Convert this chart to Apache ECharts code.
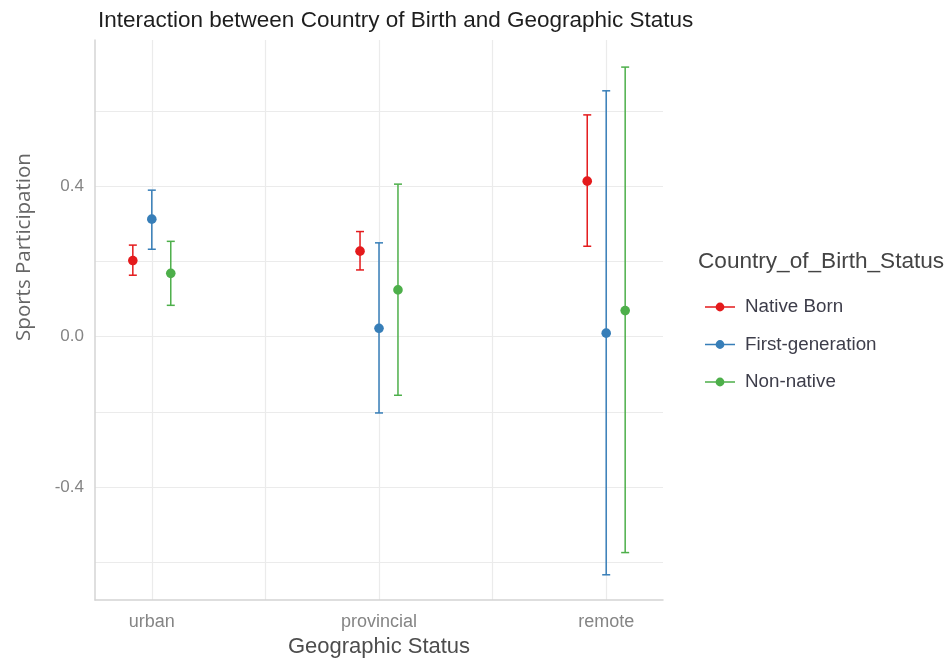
<!DOCTYPE html>
<html>
<head>
<meta charset="utf-8">
<script src="https://cdn.jsdelivr.net/npm/echarts@6/dist/echarts.min.js"></script>
<style>html,body{margin:0;padding:0;background:#fff;}#c{width:952px;height:667px;}</style>
</head>
<body>
<div id="c"></div>
<script>
const categories = ['urban', 'provincial', 'remote'];
const groups = ['Native Born', 'First-generation', 'Non-native'];
const nativeMean = [0.202, 0.227, 0.413];
const nativeLow  = [0.163, 0.177, 0.240];
const nativeHigh = [0.243, 0.279, 0.589];
const firstMean = [0.312, 0.022, 0.009];
const firstLow  = [0.232, -0.203, -0.633];
const firstHigh = [0.389, 0.249, 0.653];
const nonMean = [0.168, 0.124, 0.069];
const nonLow  = [0.083, -0.156, -0.574];
const nonHigh = [0.253, 0.405, 0.716];
const yMajorTicks = [-0.4, 0.0, 0.4];

const colors = ['#E41A1C', '#377EB8', '#4DAF4A'];
const dodge = [-0.0835, 0, 0.0835];
const FONT = 'Liberation Sans, Arial, sans-serif';

function build(mean, low, high) {
  return categories.map((c, i) => [i + 1, mean[i], low[i], high[i]]);
}
const seriesData = [
  build(nativeMean, nativeLow, nativeHigh),
  build(firstMean, firstLow, firstHigh),
  build(nonMean, nonLow, nonHigh)
];

const chart = echarts.init(document.getElementById('c'), null, {renderer: 'canvas'});

const series = groups.map((name, g) => ({
  name: name,
  type: 'custom',
  itemStyle: {color: colors[g]},
  data: seriesData[g],
  renderItem: function (params, api) {
    const x = api.value(0) + dodge[g];
    const pm = api.coord([x, api.value(1)]);
    const pl = api.coord([x, api.value(2)]);
    const ph = api.coord([x, api.value(3)]);
    const hw = 4;
    const st = {stroke: colors[g], lineWidth: 1.5, fill: null};
    return {
      type: 'group',
      children: [
        {type: 'line', shape: {x1: pl[0], y1: pl[1], x2: ph[0], y2: ph[1]}, style: st},
        {type: 'line', shape: {x1: pl[0] - hw, y1: pl[1], x2: pl[0] + hw, y2: pl[1]}, style: st},
        {type: 'line', shape: {x1: ph[0] - hw, y1: ph[1], x2: ph[0] + hw, y2: ph[1]}, style: st},
        {type: 'circle', shape: {cx: pm[0], cy: pm[1], r: 4.8}, style: {fill: colors[g]}}
      ]
    };
  }
}));

const option = {
  backgroundColor: '#fff',
  animation: false,
  title: {
    text: 'Interaction between Country of Birth and Geographic Status',
    left: 93, top: 4,
    textStyle: {fontFamily: FONT, fontSize: 22.5, fontWeight: 'normal', color: '#1e1e1e'}
  },
  grid: {left: 95, right: 289, top: 40, bottom: 67, containLabel: false, outerBoundsMode: 'none'},
  xAxis: {
    type: 'value',
    min: 0.75, max: 3.25, interval: 0.25,
    name: 'Geographic Status',
    nameLocation: 'middle', nameGap: 36,
    nameTextStyle: {fontFamily: FONT, fontSize: 22, color: '#4d4d4d', verticalAlign: 'top'},
    axisLine: {show: true, onZero: false, lineStyle: {color: '#d4d4d4', width: 1.5}},
    axisTick: {show: false},
    axisLabel: {
      fontFamily: FONT, fontSize: 18, color: '#858585', margin: 13,
      showMinLabel: true, showMaxLabel: true,
      formatter: function (v) {
        const r = Math.round(v);
        if (Math.abs(v - r) < 1e-6 && r >= 1 && r <= categories.length) return categories[r - 1];
        return '';
      }
    },
    splitLine: {show: true, showMinLine: false, showMaxLine: false, lineStyle: {color: ['#ebebeb', 'rgba(0,0,0,0)'], width: 1.2}}
  },
  yAxis: {
    type: 'value',
    min: -0.7, max: 0.788, interval: 0.1,
    axisLine: {show: true, onZero: false, lineStyle: {color: '#d4d4d4', width: 1.5}},
    axisTick: {show: false},
    axisLabel: {
      fontFamily: FONT, fontSize: 17, color: '#858585', margin: 11,
      formatter: function (v) {
        for (const t of yMajorTicks) {
          if (Math.abs(v - t) < 1e-6) return t.toFixed(1);
        }
        return '';
      }
    },
    splitLine: {show: true, showMinLine: false, showMaxLine: false, lineStyle: {color: ['#ebebeb', 'rgba(0,0,0,0)'], width: 1.2}}
  },
  legend: {
    data: groups,
    orient: 'vertical',
    left: 700, top: 292,
    icon: 'path://M0,4.3h30v1.4h-30z M15,0.6a4.4,4.4 0 1,1 -0.01,0z',
    itemWidth: 30, itemHeight: 10,
    itemGap: 17.5,
    textStyle: {fontFamily: FONT, fontSize: 18.8, color: '#3d3d4a', lineHeight: 20, padding: [0, 0, 0, 5]},
    selectedMode: false
  },
  graphic: [
    {
      type: 'text', left: 698, top: 250,
      style: {text: 'Country_of_Birth_Status', fontFamily: FONT, fontSize: 22.6, fill: '#444'}
    },
    {
      type: 'text', x: 24, y: 247, rotation: Math.PI / 2,
      style: {text: 'Sports Participation', fontFamily: 'Open Sans, sans-serif', fontSize: 20.5, fill: '#666', align: 'center', verticalAlign: 'middle'}
    }
  ],
  series: series
};
chart.setOption(option);
</script>
</body>
</html>
